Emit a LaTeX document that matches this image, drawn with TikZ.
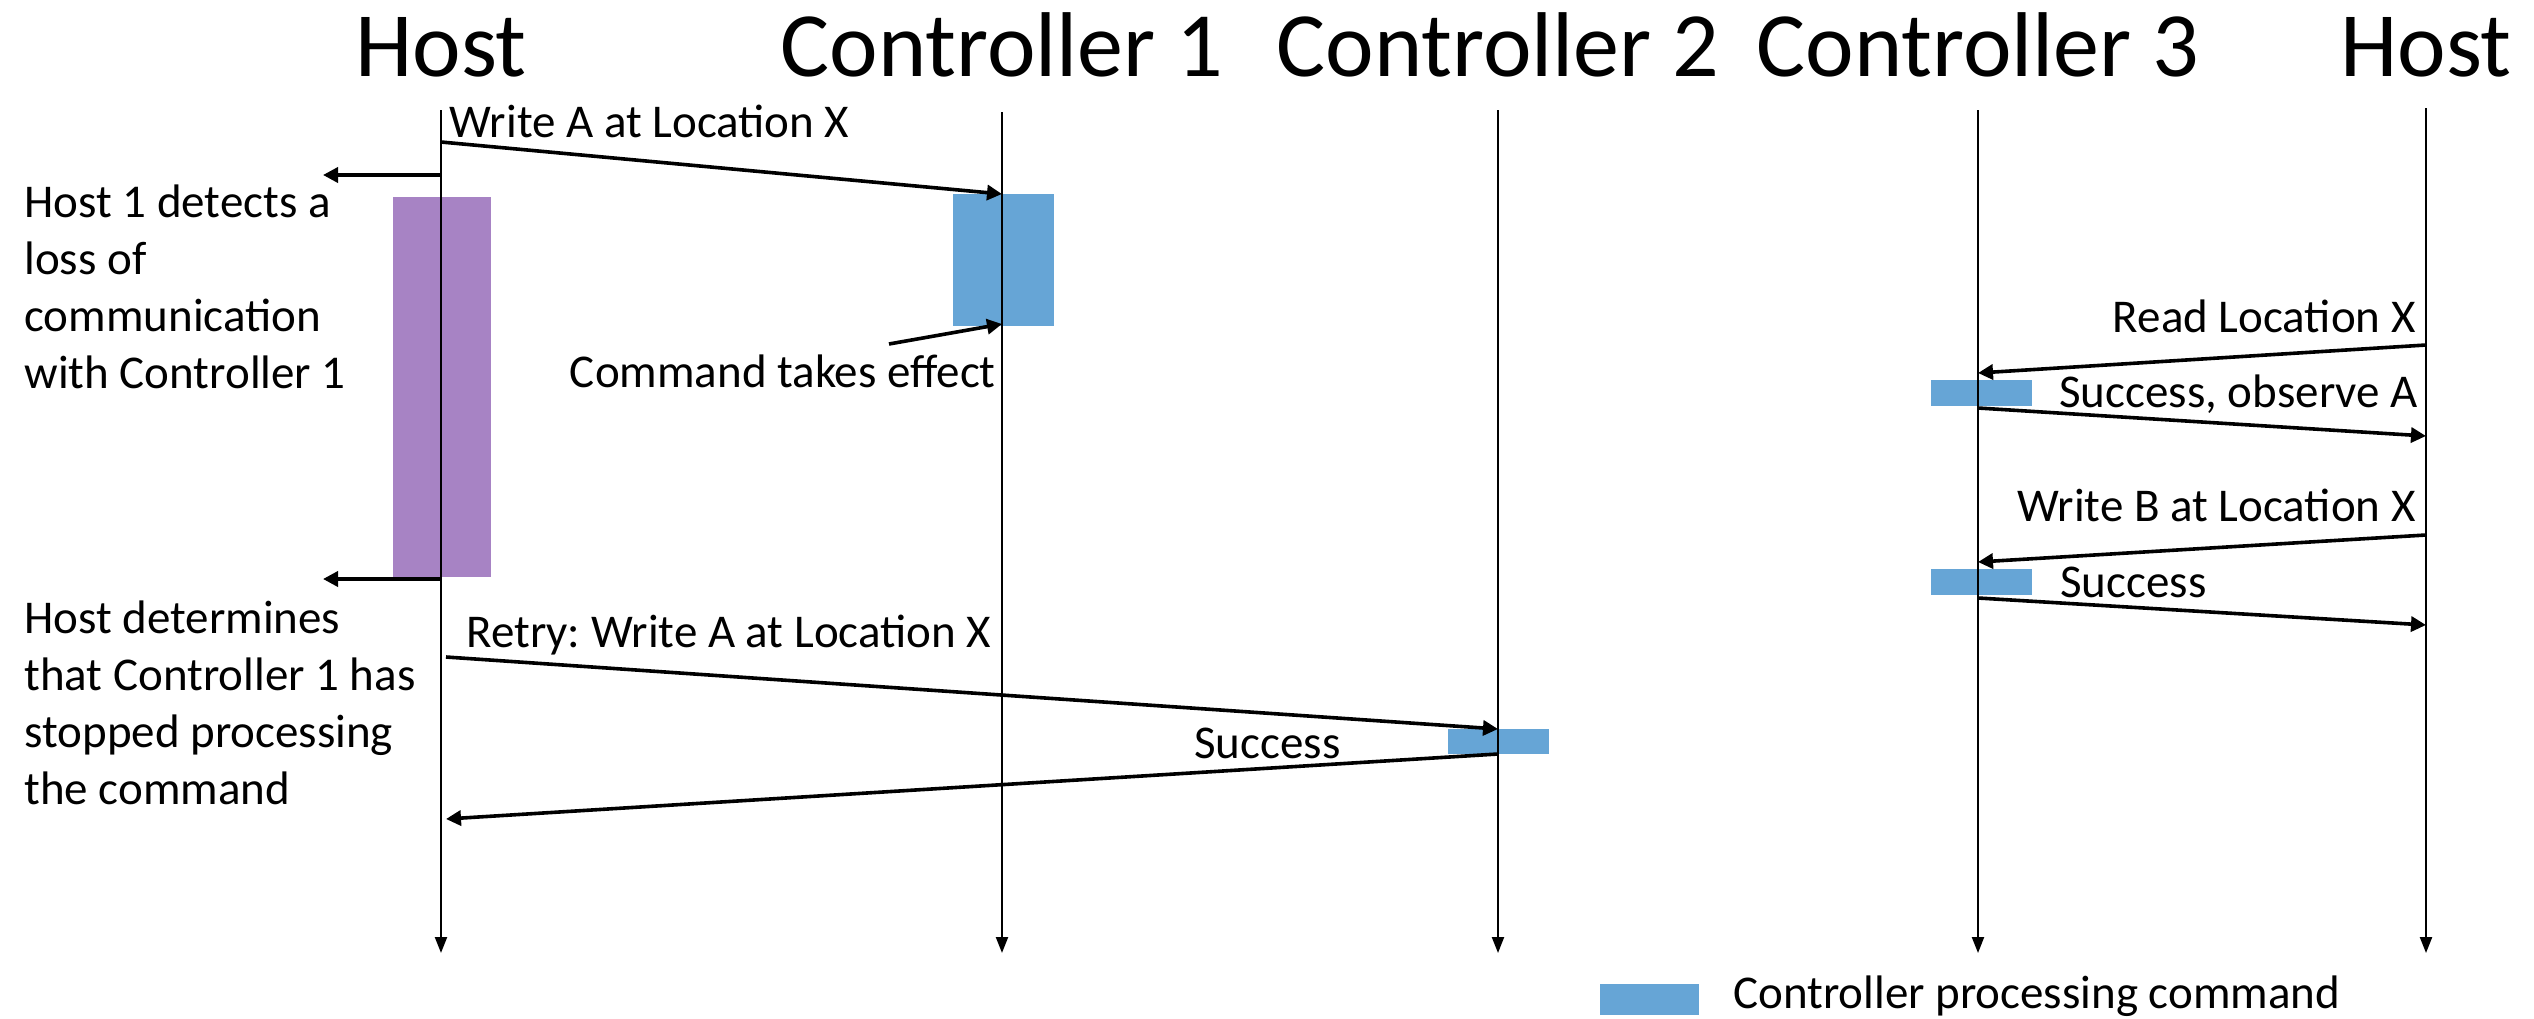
\documentclass[tikz,border=0pt]{standalone}
\usepackage{fontspec}
\setmainfont{Carlito}
\usetikzlibrary{arrows.meta}
\definecolor{procblue}{HTML}{66A5D6}
\definecolor{hostpurple}{HTML}{A783C4}
\begin{document}
\begin{tikzpicture}[x=0.5pt,y=-0.5pt,
  title/.style={font=\fontsize{46}{55}\selectfont, inner sep=0, anchor=base},
  lbl/.style={font=\fontsize{23.5}{28.5}\selectfont, inner sep=0},
  lifeline/.style={line width=1.1pt, -{Triangle[length=8pt,width=6pt]}},
  msg/.style={line width=1.8pt, -{Triangle[length=7.5pt,width=7.5pt]}},
  procbox/.style={fill=procblue},
  waitbox/.style={fill=hostpurple},
]
\useasboundingbox (0,0) rectangle (2534,1018);

% titles
\node[title] (t1) at (441,76) {Host};
\node[title] (t2) at (1002,76) {Controller 1};
\node[title] (t3) at (1498,76) {Controller 2};
\node[title] (t4) at (1978,76) {Controller 3};
\node[title] (t5) at (2426,76) {Host};

% activity boxes
\fill[waitbox] (393,197) rectangle (491,577);
\fill[procbox] (953,194) rectangle (1054,326);
\fill[procbox] (1448,729) rectangle (1549,754);
\fill[procbox] (1931,380) rectangle (2032,406);
\fill[procbox] (1931,569) rectangle (2032,595);

% lifelines
\coordinate (h1top) at (441,110); \coordinate (h1bot) at (441,953);
\coordinate (c1top) at (1002,112); \coordinate (c1bot) at (1002,953);
\coordinate (c2top) at (1498,110); \coordinate (c2bot) at (1498,953);
\coordinate (c3top) at (1978,110); \coordinate (c3bot) at (1978,953);
\coordinate (h2top) at (2426,108); \coordinate (h2bot) at (2426,953);
\draw[lifeline] (h1top) -- (h1bot);
\draw[lifeline] (c1top) -- (c1bot);
\draw[lifeline] (c2top) -- (c2bot);
\draw[lifeline] (c3top) -- (c3bot);
\draw[lifeline] (h2top) -- (h2bot);

% message end points
\coordinate (m1s) at (441,142);  \coordinate (m1e) at (1002,194);
\coordinate (d1s) at (441,175);  \coordinate (d1e) at (323,175);
\coordinate (d2s) at (441,579);  \coordinate (d2e) at (323,579);
\coordinate (cts) at (889,344);  \coordinate (cte) at (1002,324);
\coordinate (r1s) at (446,657);  \coordinate (r1e) at (1498,729);
\coordinate (s1s) at (1498,754); \coordinate (s1e) at (446,819);
\coordinate (rds) at (2426,345); \coordinate (rde) at (1978,373);
\coordinate (oas) at (1978,408); \coordinate (oae) at (2426,436);
\coordinate (wbs) at (2426,535); \coordinate (wbe) at (1978,562);
\coordinate (s2s) at (1978,598); \coordinate (s2e) at (2426,625);

\draw[msg] (m1s) -- (m1e);
\draw[msg] (d1s) -- (d1e);
\draw[msg] (d2s) -- (d2e);
\draw[msg] (cts) -- (cte);
\draw[msg] (r1s) -- (r1e);
\draw[msg] (s1s) -- (s1e);
\draw[msg] (rds) -- (rde);
\draw[msg] (oas) -- (oae);
\draw[msg] (wbs) -- (wbe);
\draw[msg] (s2s) -- (s2e);

% labels (multi-line nodes: base anchor is the last line's baseline)
\node[lbl, anchor=base west] (lwa) at (449,137) {Write A at Location X};
\node[lbl, anchor=base west, align=left] (ldet) at (24,388) {Host 1 detects a\\loss of\\communication\\with Controller 1};
\node[lbl, anchor=base east] (lcte) at (996,387) {Command takes effect};
\node[lbl, anchor=base west, align=left] (lstop) at (24,804) {Host determines\\that Controller 1 has\\stopped processing\\the command};
\node[lbl, anchor=base west] (lretry) at (466,647) {Retry:\ Write A at Location X};
\node[lbl, anchor=base west] (lsuc1) at (1194,758) {Success};
\node[lbl, anchor=base east] (lread) at (2416,332) {Read Location X};
\node[lbl, anchor=base west] (lobs) at (2059,407) {Success, observe A};
\node[lbl, anchor=base east] (lwb) at (2416,521) {Write B at Location X};
\node[lbl, anchor=base west] (lsuc2) at (2060,597) {Success};

% legend
\fill[procbox] (1600,984) rectangle (1699,1015);
\node[lbl, anchor=base west] (legend) at (1733,1008) {Controller processing command};
\end{tikzpicture}
\end{document}
